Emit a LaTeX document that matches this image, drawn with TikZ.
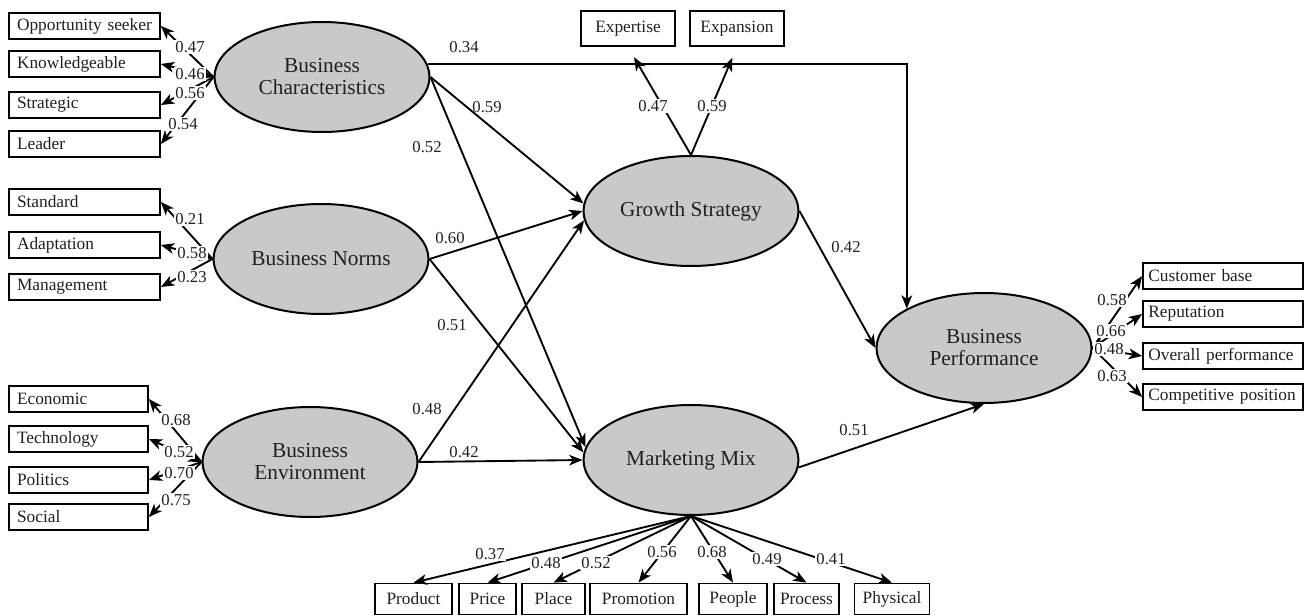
\documentclass[tikz,border=0pt]{standalone}
\usepackage{fontspec}
\setmainfont{Liberation Serif}
\usetikzlibrary{arrows.meta,shapes.geometric}

\begin{document}
\begin{tikzpicture}[x=0.75pt,y=0.75pt,yscale=-1,
  latent/.style={draw, line width=1.5pt, ellipse, fill={rgb,255:red,200;green,201;blue,203},
    minimum width=161.25pt, minimum height=82.5pt, inner sep=0pt, align=center,
    font=\fontsize{16}{16.5}\selectfont, text={rgb,255:red,35;green,31;blue,32}},
  ind/.style={draw, line width=1.3pt, rectangle, inner xsep=6pt, inner ysep=0pt,
    minimum height=19.5pt, align=left, font=\fontsize{13}{13}\selectfont,
    text={rgb,255:red,35;green,31;blue,32}},
  indl/.style={ind, text width=101.25pt},
  indm/.style={ind, text width=92.25pt},
  indr/.style={ind, inner xsep=4pt, text width=112pt},
  indt/.style={ind, align=center, minimum width=70.5pt, minimum height=26.25pt},
  indb/.style={ind, align=center, inner xsep=3pt, minimum height=23.25pt},
  arr/.style={line width=1.4pt, -{Stealth[length=10pt,width=8pt,inset=2.8pt]}},
  arrb/.style={line width=1.4pt, {Stealth[length=10pt,width=8pt,inset=2.8pt]}-{Stealth[length=10pt,width=8pt,inset=2.8pt]}},
  lbl/.style={font=\fontsize{12.5}{12.5}\selectfont, inner sep=1pt, text={rgb,255:red,35;green,31;blue,32}},
  lblw/.style={lbl, fill=white}
]
\useasboundingbox (0,0) rectangle (1306,616);

%Latent variables
\node[latent] (BC) at (322,77) {Business\\Characteristics};
\node[latent] (BN) at (321,259) {Business Norms};
\node[latent] (BE) at (310,462) {Business\\Environment};
\node[latent] (GS) at (691,211) {Growth Strategy};
\node[latent] (MM) at (691,460) {Marketing Mix};
\node[latent] (BP) at (984,348) {Business\\Performance};

%Indicators: left
\node[indl] (os) at (84.5,26) {Opportunity seeker};
\node[indl] (kn) at (84.5,64) {Knowledgeable};
\node[indl] (st) at (84.5,105) {Strategic};
\node[indl] (le) at (84.5,144) {Leader};
\node[indl] (sd) at (84.5,202) {Standard};
\node[indl] (ad) at (84.5,245) {Adaptation};
\node[indl] (mg) at (84.5,287) {Management};
\node[indm] (ec) at (78.5,399) {Economic};
\node[indm] (te) at (78.5,439) {Technology};
\node[indm] (po) at (78.5,480) {Politics};
\node[indm] (so) at (78.5,517) {Social};

%Indicators: top
\node[indt] (ex) at (628,28.5) {Expertise};
\node[indt] (xp) at (737,28.5) {Expansion};

%Indicators: right
\node[indr] (cb) at (1223,276) {Customer base};
\node[indr] (rp) at (1223,314) {Reputation};
\node[indr] (op) at (1223,356) {Overall performance};
\node[indr] (cp) at (1223,397) {Competitive position};

%Indicators: bottom
\node[indb, minimum width=57.75pt] (pd) at (413.5,599) {Product};
\node[indb, minimum width=42.75pt] (pr) at (487.5,599) {Price};
\node[indb, minimum width=47.25pt] (pl) at (553.5,599) {Place};
\node[indb, minimum width=72.75pt] (pm) at (638.5,599) {Promotion};
\node[indb, minimum width=51pt] (pe) at (733,599) {People};
\node[indb, minimum width=48.75pt] (pc) at (806.5,599) {Process};
\node[indb, minimum width=56.25pt] (ph) at (892,599) {Physical};

%Structural paths
\draw[arr] (BC.7) -| (BP.153);
\draw[arr] (BC.east) -- (GS.176);
\draw[arr] (BC.east) -- (MM.173);
\draw[arr] (BN.east) -- (GS.180);
\draw[arr] (BN.east) -- (MM.176);
\draw[arr] (BE.east) -- (GS.185);
\draw[arr] (BE.east) -- (MM.west);
\draw[arr] (GS.east) -- (BP.west);
\draw[arr] (MM.-4) -- (BP.south);

%Loadings
\draw[arr] (BC.west) -- (os.east);
\draw[arrb] (BC.west) -- (kn.east);
\draw[arr] (BC.west) -- (st.east);
\draw[arr] (BC.west) -- (le.east);
\draw[arr] (BN.west) -- (sd.east);
\draw[arrb] (BN.west) -- (ad.east);
\draw[arr] (BN.west) -- (mg.east);
\draw[arr] (BE.west) -- (ec.east);
\draw[arrb] (BE.west) -- (te.east);
\draw[arr] (BE.west) -- (po.east);
\draw[arr] (BE.west) -- (so.east);
\draw[arr, shorten >=9pt] (GS.north) -- (ex.south);
\draw[arr, shorten >=9pt] (GS.north) -- (xp.south);
\draw[arr] (BP.east) -- (cb.west);
\draw[arrb] (BP.east) -- (rp.west);
\draw[arr] (BP.east) -- (op.west);
\draw[arr] (BP.east) -- (cp.west);
\draw[arr] (MM.south) -- (pd.north);
\draw[arr] (MM.south) -- (pr.north);
\draw[arr] (MM.south) -- (pl.north);
\draw[arr] (MM.south) -- (pm.north);
\draw[arr] (MM.south) -- (pe.north);
\draw[arr] (MM.south) -- (pc.north);
\draw[arr] (MM.south) -- (ph.north);

% Text Node
\node[lbl] (wBCBP) at (464,47) {0.34};
\node[lbl] (wBCGS) at (487,107) {0.59};
\node[lbl] (wBCMM) at (427,147) {0.52};
\node[lbl] (wBNGS) at (450,238) {0.60};
\node[lbl] (wBNMM) at (452,325) {0.51};
\node[lbl] (wBEGS) at (427,409) {0.48};
\node[lbl] (wBEMM) at (464,452) {0.42};
\node[lbl] (wGSBP) at (846,247) {0.42};
\node[lbl] (wMMBP) at (854,430) {0.51};
% Text Node
\node[lblw] (wex) at (653,106) {0.47};
\node[lblw] (wxp) at (712,106) {0.59};
% Text Node
\node[lblw] (wos) at (190,47) {0.47};
\node[lblw] (wkn) at (190,74) {0.46};
\node[lblw] (wst) at (190,93) {0.56};
\node[lblw] (wle) at (183,124) {0.54};
\node[lblw] (wsd) at (190,219) {0.21};
\node[lblw] (wad) at (192,253) {0.58};
\node[lblw] (wmg) at (192,277) {0.23};
\node[lblw] (wec) at (176,420) {0.68};
\node[lblw] (wte) at (179,452) {0.52};
\node[lblw] (wpo) at (179,473) {0.70};
\node[lblw] (wso) at (176,500) {0.75};
% Text Node
\node[lblw] (wcb) at (1112,300) {0.58};
\node[lblw] (wrp) at (1111,331) {0.66};
\node[lblw] (wop) at (1109,349) {0.48};
\node[lblw] (wcp) at (1112,376) {0.63};
% Text Node
\node[lblw] (wpd) at (490,554) {0.37};
\node[lblw] (wpr) at (546,563) {0.48};
\node[lblw] (wpl) at (596,563) {0.52};
\node[lblw] (wpm) at (662,552) {0.56};
\node[lblw] (wpe) at (712,552) {0.68};
\node[lblw] (wpc) at (767,559) {0.49};
\node[lblw] (wph) at (831,559) {0.41};
\end{tikzpicture}
\end{document}
